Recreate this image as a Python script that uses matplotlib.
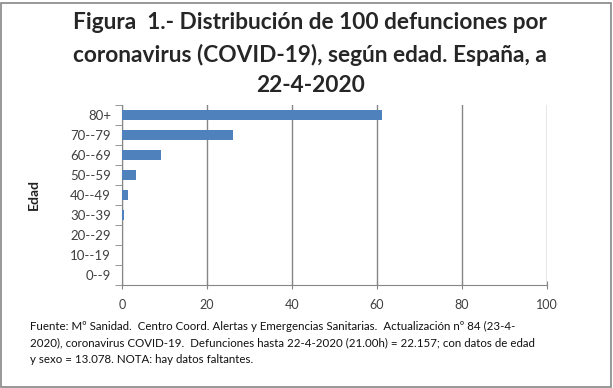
import numpy as np
import matplotlib.pyplot as plt
from matplotlib.patches import Rectangle

# DATA
edades = ['0--9', '10--19', '20--29', '30--39', '40--49', '50--59', '60--69', '70--79', '80+']
defunciones = [0.0, 0.02, 0.1, 0.4, 1.3, 3.3, 9.2, 26.1, 61.2]
xticks = [0, 20, 40, 60, 80, 100]

titulo = ('Figura  1.- Distribución de 100 defunciones por\n'
          'coronavirus (COVID-19), según edad. España, a\n'
          '22-4-2020')
fuente = ('Fuente: Mº Sanidad.  Centro Coord. Alertas y Emergencias Sanitarias.  Actualización nº 84 (23-4-\n'
          '2020), coronavirus COVID-19.  Defunciones hasta 22-4-2020 (21.00h) = 22.157; con datos de edad\n'
          'y sexo = 13.078. NOTA: hay datos faltantes.')

plt.rcParams['font.family'] = ['Lato', 'DejaVu Sans']

W, H = 613, 388
fig = plt.figure(figsize=(W / 100, H / 100), dpi=100)

# outer border
fig.patches.append(Rectangle((1.5 / W, 1.5 / H), (W - 4) / W, (H - 4) / H,
                             transform=fig.transFigure, fill=False,
                             edgecolor='#868686', linewidth=1.2))

# plot area: x 122..547, y 105..285 (pixels from top)
ax = fig.add_axes([122 / W, 1 - 285 / H, 425 / W, 180 / H])

pos = np.arange(len(edades))
ax.barh(pos, defunciones, height=0.5, color='#4f81bd', zorder=3)

ax.set_xlim(0, 100)
ax.set_ylim(-0.5, len(edades) - 0.5)
ax.set_xticks(xticks)
ax.set_yticks(pos)
ax.set_yticklabels(edades)
ax.set_yticks(np.arange(-0.5, len(edades)), minor=True)
ax.tick_params(axis='y', which='major', length=0, pad=8, labelsize=9.5, colors='#404040')
ax.tick_params(axis='y', which='minor', length=5, color='#868686', direction='out')
ax.tick_params(axis='x', length=6, direction='inout', color='#868686', pad=7,
               labelsize=9, labelcolor='#404040')

ax.grid(axis='x', color='#868686', linewidth=1, zorder=0)
for s in ['top', 'right']:
    ax.spines[s].set_visible(False)
for s in ['left', 'bottom']:
    ax.spines[s].set_color('#868686')

ax.set_ylabel('Edad', fontsize=10, fontweight='bold', color='#222222', labelpad=22)

fig.text(0.506, 1 - 12 / H, titulo, ha='center', va='top', fontsize=16.3,
         fontweight='bold', color='#262626', linespacing=1.58)
fig.text(30 / W, 1 - 321 / H, fuente, ha='left', va='top', fontsize=8.3,
         color='#111111', linespacing=1.6)

fig.savefig('out.png', dpi=100)
